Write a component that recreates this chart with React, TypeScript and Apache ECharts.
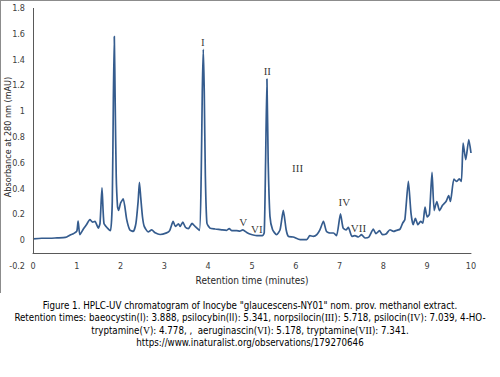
import React, { useEffect, useRef } from "react";
import * as echarts from "echarts";

const times = [
  0.0, 0.2, 0.39, 0.55, 0.69, 0.77, 0.85, 0.92, 1.0, 1.03, 1.07, 1.15, 1.22, 1.3, 1.36, 1.415, 1.49, 1.53,
  1.575, 1.62, 1.7, 1.77, 1.81, 1.835, 1.856, 1.875, 1.9, 1.93, 1.955, 2.0, 2.06, 2.14, 2.21, 2.29, 2.35,
  2.4, 2.43, 2.46, 2.5, 2.54, 2.63, 2.71, 2.79, 2.9, 3.05, 3.12, 3.2, 3.25, 3.32, 3.36, 3.42, 3.48, 3.55,
  3.63, 3.7, 3.8, 3.84, 3.865, 3.888, 3.91, 3.935, 3.97, 4.04, 4.16, 4.31, 4.42, 4.48, 4.54, 4.65, 4.72,
  4.79, 4.88, 4.95, 5.11, 5.24, 5.28, 5.31, 5.341, 5.37, 5.41, 5.47, 5.56, 5.64, 5.715, 5.78, 5.83, 5.94,
  6.1, 6.25, 6.32, 6.4, 6.48, 6.55, 6.63, 6.7, 6.78, 6.86, 6.93, 7.02, 7.08, 7.15, 7.2, 7.28, 7.35, 7.43,
  7.5, 7.58, 7.67, 7.77, 7.83, 7.91, 7.98, 8.06, 8.15, 8.23, 8.3, 8.38, 8.44, 8.49, 8.57, 8.63, 8.68, 8.73,
  8.79, 8.85, 8.9, 8.95, 9.0, 9.05, 9.11, 9.16, 9.22, 9.28, 9.35, 9.43, 9.49, 9.53, 9.61, 9.67, 9.73, 9.78,
  9.82, 9.88, 9.95, 10.0,
];

const absorbance = [
  0.01, 0.015, 0.015, 0.018, 0.02, 0.025, 0.04, 0.05, 0.07, 0.148, 0.043, 0.087, 0.12, 0.159, 0.14, 0.146,
  0.094, 0.13, 0.405, 0.13, 0.094, 0.074, 0.3, 1.1, 1.58, 1.1, 0.5, 0.26, 0.231, 0.288, 0.32, 0.159, 0.08,
  0.068, 0.13, 0.3, 0.448, 0.33, 0.18, 0.107, 0.064, 0.08, 0.057, 0.044, 0.057, 0.074, 0.146, 0.107, 0.126,
  0.107, 0.14, 0.1, 0.09, 0.13, 0.107, 0.076, 0.5, 1.15, 1.48, 1.15, 0.5, 0.133, 0.094, 0.087, 0.08, 0.076,
  0.09, 0.074, 0.074, 0.07, 0.08, 0.06, 0.048, 0.035, 0.035, 0.06, 0.6, 1.25, 0.6, 0.185, 0.081, 0.043,
  0.08, 0.231, 0.081, 0.03, 0.025, 0.004, 0.004, 0.035, 0.03, 0.043, 0.08, 0.146, 0.068, 0.056, 0.056,
  0.035, 0.205, 0.094, 0.08, 0.1, 0.03, 0.035, 0.025, 0.043, 0.017, 0.025, 0.086, 0.05, 0.074, 0.043, 0.048,
  0.081, 0.068, 0.076, 0.086, 0.133, 0.159, 0.456, 0.21, 0.12, 0.17, 0.12, 0.146, 0.133, 0.257, 0.18, 0.2,
  0.526, 0.23, 0.3, 0.23, 0.27, 0.3, 0.345, 0.3, 0.474, 0.455, 0.475, 0.455, 0.753, 0.624, 0.78, 0.676,
];

const peakNames = ["I", "II", "III", "IV", "V", "VI", "VII"];
const peakLabelX = [3.88, 5.35, 6.04, 7.11, 4.8, 5.11, 7.43];
const peakLabelY = [1.54, 1.31, 0.56, 0.296, 0.141, 0.086, 0.094];

const yTitle = "Absorbance at 280 nm (mAU)";
const xTitle = "Retention time (minutes)";

const SANS = "'Liberation Sans Narrow', 'DejaVu Sans Condensed', sans-serif";
const SERIF = "'Liberation Serif', 'DejaVu Serif', serif";

export default function App() {
  const ref = useRef<HTMLDivElement>(null);
  useEffect(() => {
    document.body.style.margin = "0";
    if (!ref.current) return;
    const chart = echarts.init(ref.current, null, { renderer: "svg" });
    const lineData = times.map((t, i) => [t, absorbance[i]]);
    const labelData = peakNames.map((n, i) => ({ name: n, value: [peakLabelX[i], peakLabelY[i]] }));
    const capRich = {
      n: { fontFamily: SANS, fontSize: 9.7, color: "#1a1a1a" },
      r: { fontFamily: SERIF, fontSize: 9.7, color: "#1a1a1a" },
    };
    chart.setOption({
      animation: false,
      grid: { left: 33, right: 29, top: 8, bottom: 111, containLabel: false, outerBoundsMode: "none" },
      xAxis: {
        type: "value",
        min: 0,
        max: 10,
        interval: 1,
        offset: -13,
        name: xTitle,
        nameLocation: "middle",
        nameGap: 22,
        nameMoveOverlap: false,
        nameTextStyle: { fontFamily: SANS, fontSize: 10, color: "#262626" },
        axisLine: { show: true, onZero: false, lineStyle: { color: "#595959", width: 1 } },
        axisTick: { show: false },
        axisLabel: { margin: 8, fontFamily: SANS, fontSize: 9, color: "#404040" },
        splitLine: { show: false },
      },
      yAxis: {
        type: "value",
        min: -0.2,
        max: 1.8,
        interval: 0.2,
        name: yTitle,
        nameLocation: "middle",
        nameGap: 21,
        nameMoveOverlap: false,
        nameTextStyle: { fontFamily: SANS, fontSize: 9, color: "#262626" },
        axisLine: { show: false },
        axisTick: { show: false },
        axisLabel: {
          margin: 8,
          fontFamily: SANS,
          fontSize: 9,
          color: "#404040",
          formatter: (v: number) => String(Math.round(v * 10) / 10),
        },
        splitLine: { show: false },
      },
      series: [
        {
          type: "line",
          data: lineData,
          showSymbol: false,
          smooth: 0.2,
          lineStyle: { color: "#355C8E", width: 1.7 },
          z: 3,
          markLine: {
            silent: true,
            symbol: "none",
            label: { show: false },
            lineStyle: { color: "#595959", width: 1, type: "solid" },
            data: [[{ coord: [0, -0.1] }, { coord: [0, 1.8] }]],
          },
        },
        {
          type: "scatter",
          data: labelData,
          symbolSize: 0,
          z: 5,
          label: {
            show: true,
            position: "inside",
            formatter: "{b}",
            fontFamily: SERIF,
            fontSize: 11,
            color: "#000",
          },
        },
      ],
      graphic: [
        { type: "line", shape: { x1: 0, y1: 0.5, x2: 500, y2: 0.5 }, style: { stroke: "#8c8c8c", lineWidth: 1 } },
        { type: "line", shape: { x1: 0.5, y1: 0, x2: 0.5, y2: 293 }, style: { stroke: "#8c8c8c", lineWidth: 1 } },
        {
          type: "text",
          x: 250,
          y: 305,
          style: {
            text: "{n|Figure 1. HPLC-UV chromatogram of Inocybe \"glaucescens-NY01\" nom. prov. methanol extract.}",
            rich: capRich,
            align: "center",
            verticalAlign: "middle",
          },
        },
        {
          type: "text",
          x: 250,
          y: 317.5,
          style: {
            text:
              "{n|Retention times: baeocystin(I): 3.888, psilocybin(II): 5.341, norpsilocin(}{r|III}{n|): 5.718, psilocin(}{r|IV}{n|): 7.039, 4-HO-}",
            rich: capRich,
            align: "center",
            verticalAlign: "middle",
          },
        },
        {
          type: "text",
          x: 250,
          y: 330,
          style: {
            text: "{n|tryptamine(}{r|V}{n|): 4.778, ,  aeruginascin(}{r|VI}{n|): 5.178, tryptamine(}{r|VII}{n|): 7.341.}",
            rich: capRich,
            align: "center",
            verticalAlign: "middle",
          },
        },
        {
          type: "text",
          x: 250,
          y: 342.5,
          style: {
            text: "{n|https://www.inaturalist.org/observations/179270646}",
            rich: capRich,
            align: "center",
            verticalAlign: "middle",
          },
        },
      ],
    });
    return () => chart.dispose();
  }, []);
  return (
    <div
      ref={ref}
      style={{ width: 500, height: 377, position: "absolute", left: 0, top: 0, background: "#fff" }}
    />
  );
}
